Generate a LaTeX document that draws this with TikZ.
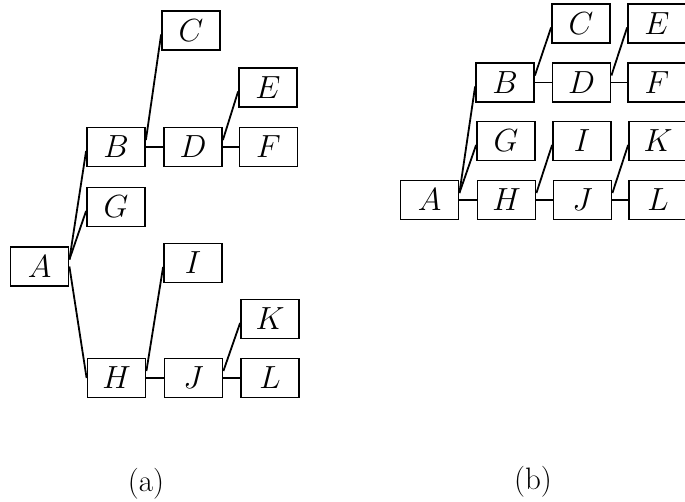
\RequirePackage{fix-cm}
\documentclass[tikz,border=0pt]{standalone}
\begin{document}
\begin{tikzpicture}[x=1pt,y=-1pt,
  box/.style={draw,line width=1.8pt,minimum width=58pt,minimum height=39pt,inner sep=0pt,
    font=\fontsize{32}{38}\selectfont},
  link/.style={line width=1.8pt},
  captext/.style={font=\fontsize{31}{37}\selectfont}]
\clip (0,0) rectangle (685,501);
\fill[white] (0,0) rectangle (685,501);
% (a)
\node[box] (aA) at (39.5,266.5) {$A$};
\node[box] (aB) at (116,147) {$B$};
\node[box] (aC) at (191,30.5) {$C$};
\node[box] (aD) at (193,147) {$D$};
\node[box] (aE) at (268,87.5) {$E$};
\node[box] (aF) at (268.5,147) {$F$};
\node[box] (aG) at (116,207) {$G$};
\node[box] (aH) at (116.5,378) {$H$};
\node[box] (aI) at (193,263) {$I$};
\node[box] (aJ) at (193.5,378) {$J$};
\node[box] (aK) at (270,319) {$K$};
\node[box] (aL) at (270,378) {$L$};
\foreach \p/\c in {A/B,A/G,B/C,D/E,H/I,J/K}
  \draw[link] ([yshift=7pt]a\p.east) -- ([yshift=-4pt]a\c.west);
\foreach \p/\c in {A/H,B/D,D/F,H/J,J/L}
  \draw[link] (a\p.east) -- (a\c.west);
\node[captext] (capa) at (146,484) {(a)};
% (b)
\node[box] (bA) at (429.5,200) {$A$};
\node[box] (bB) at (505,82.5) {$B$};
\node[box] (bC) at (581,23.5) {$C$};
\node[box] (bD) at (581.5,82.5) {$D$};
\node[box] (bE) at (657,23.5) {$E$};
\node[box] (bF) at (657,82.5) {$F$};
\node[box] (bG) at (506,141) {$G$};
\node[box] (bH) at (506.5,200) {$H$};
\node[box] (bI) at (582,141) {$I$};
\node[box] (bJ) at (582.5,200) {$J$};
\node[box] (bK) at (658,141) {$K$};
\node[box] (bL) at (658,200) {$L$};
\foreach \p/\c in {A/B,A/G,B/C,D/E,H/I,J/K}
  \draw[link] ([yshift=7pt]b\p.east) -- ([yshift=-4pt]b\c.west);
\foreach \p/\c in {A/H,B/D,D/F,H/J,J/L}
  \draw[link] (b\p.east) -- (b\c.west);
\node[captext] (capb) at (533,482) {(b)};
\end{tikzpicture}
\end{document}
